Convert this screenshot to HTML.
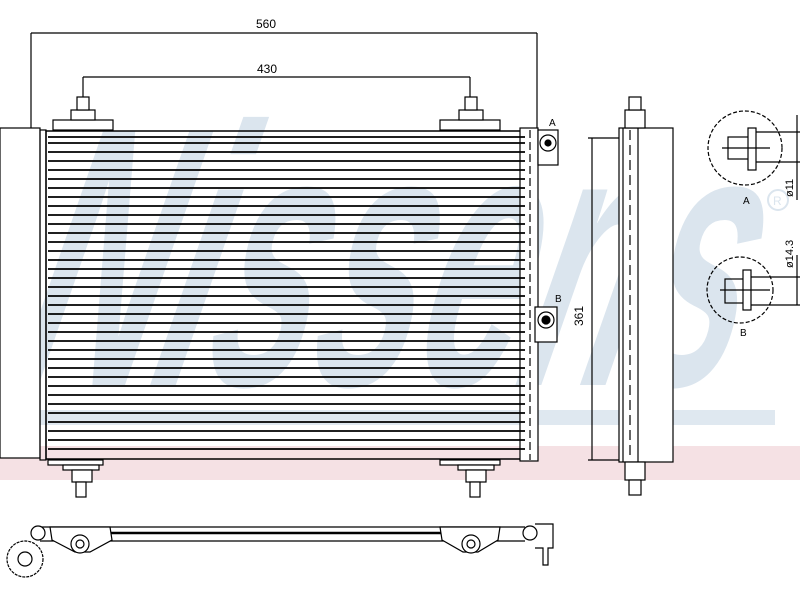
<!DOCTYPE html>
<html><head><meta charset="utf-8"><style>
html,body{margin:0;padding:0;background:#fff;width:800px;height:600px;overflow:hidden}
svg{display:block}
text{font-family:"Liberation Sans",sans-serif}
</style></head><body>
<svg width="800" height="600" viewBox="0 0 800 600" xmlns="http://www.w3.org/2000/svg">
<!-- watermark -->
<rect x="0" y="410" width="775" height="15" fill="#dfe8f0"/>
<rect x="0" y="446" width="800" height="34" fill="#f5e1e4"/>
<g transform="translate(0,250) skewX(-14) translate(0,-250)">
<text x="45" y="385" font-size="370" font-weight="bold" font-style="italic" fill="#dbe5ee" textLength="720" lengthAdjust="spacingAndGlyphs">Nissens</text>
</g>
<circle cx="778" cy="200" r="10" fill="none" stroke="#dbe5ee" stroke-width="2"/>
<text x="773" y="205" font-size="12" fill="#dbe5ee">R</text>

<g stroke="#000" fill="none" stroke-width="1.2">
<line x1="31" y1="33" x2="537" y2="33"/>
<line x1="31" y1="33" x2="31" y2="128"/>
<line x1="537" y1="33" x2="537" y2="128"/>
<line x1="83" y1="77" x2="470" y2="77"/>
<line x1="83" y1="77" x2="83" y2="97"/>
<line x1="470" y1="77" x2="470" y2="97"/>
<rect x="0" y="128" width="40" height="330" fill="#fff"/>
<rect x="40" y="130" width="6" height="330"/>
<rect x="46" y="131" width="480" height="328" fill="none" stroke-width="1.5"/>
<rect x="520" y="128" width="18" height="333" fill="#fff"/>
<line x1="530" y1="130" x2="530" y2="460" stroke-dasharray="8,4"/>
<rect x="53" y="120" width="60" height="10" fill="#fff"/>
<rect x="71" y="110" width="24" height="10" fill="#fff"/>
<rect x="77" y="97" width="12" height="13" fill="#fff"/>
<rect x="440" y="120" width="60" height="10" fill="#fff"/>
<rect x="459" y="110" width="24" height="10" fill="#fff"/>
<rect x="465" y="97" width="12" height="13" fill="#fff"/>
<rect x="48" y="460" width="55" height="5" fill="#fff"/>
<rect x="63" y="465" width="36" height="5" fill="#fff"/>
<rect x="72" y="470" width="20" height="12" fill="#fff"/>
<rect x="76" y="482" width="10" height="15" fill="#fff"/>
<rect x="440" y="460" width="60" height="5" fill="#fff"/>
<rect x="458" y="465" width="36" height="5" fill="#fff"/>
<rect x="466" y="470" width="20" height="12" fill="#fff"/>
<rect x="470" y="482" width="10" height="15" fill="#fff"/>
<rect x="538" y="130" width="20" height="35" fill="#fff"/>
<circle cx="548" cy="143" r="8"/>
<circle cx="548" cy="143" r="3" fill="#000"/>
<rect x="535" y="307" width="22" height="35" fill="#fff"/>
<circle cx="546" cy="320" r="8"/>
<circle cx="546" cy="320" r="4" fill="#000"/>
<line x1="592" y1="138" x2="592" y2="460"/>
<line x1="588" y1="138" x2="620" y2="138"/>
<line x1="588" y1="460" x2="620" y2="460"/>
<rect x="619" y="128" width="54" height="334" fill="#fff"/>
<line x1="623" y1="128" x2="623" y2="462"/>
<line x1="638" y1="128" x2="638" y2="462"/>
<line x1="630" y1="130" x2="630" y2="460" stroke-dasharray="10,5"/>
<rect x="625" y="110" width="20" height="18" fill="#fff"/>
<rect x="629" y="97" width="12" height="13" fill="#fff"/>
<rect x="625" y="462" width="20" height="18" fill="#fff"/>
<rect x="629" y="480" width="12" height="15" fill="#fff"/>
<circle cx="745" cy="148" r="37" stroke-dasharray="4,2"/>
<rect x="728" y="137" width="24" height="22"/>
<rect x="748" y="128" width="8" height="42" fill="#fff"/>
<line x1="722" y1="148" x2="770" y2="148"/>
<line x1="756" y1="132" x2="800" y2="132"/>
<line x1="756" y1="162" x2="800" y2="162"/>
<line x1="797" y1="115" x2="797" y2="200"/>
<circle cx="740" cy="290" r="33" stroke-dasharray="4,2"/>
<rect x="725" y="279" width="22" height="24"/>
<rect x="743" y="270" width="8" height="40" fill="#fff"/>
<line x1="720" y1="290" x2="770" y2="290"/>
<line x1="751" y1="277" x2="800" y2="277"/>
<line x1="751" y1="305" x2="800" y2="305"/>
<line x1="797" y1="255" x2="797" y2="305"/>
<line x1="40" y1="527" x2="525" y2="527"/>
<line x1="40" y1="541" x2="525" y2="541"/>
<line x1="110" y1="533" x2="455" y2="533" stroke-width="2.5"/>
<path d="M50 527 L110 527 L112 540 L90 552 L75 552 L52 540 Z" fill="#fff"/>
<path d="M440 527 L500 527 L498 540 L478 552 L463 552 L442 540 Z" fill="#fff"/>
<circle cx="80" cy="544" r="9" fill="#fff"/><circle cx="80" cy="544" r="4"/>
<circle cx="471" cy="544" r="9" fill="#fff"/><circle cx="471" cy="544" r="4"/>
<circle cx="38" cy="533" r="7" fill="#fff"/>
<circle cx="530" cy="533" r="7" fill="#fff"/>
<circle cx="25" cy="559" r="18" fill="#fff" stroke-dasharray="3,1"/>
<circle cx="25" cy="559" r="7"/>
<path d="M535 524 L553 524 L553 548 L548 548 L548 565 L543 565 L543 548 L535 548"/>
</g>
<g stroke="#000" stroke-width="1.8">
<line x1="48" y1="137" x2="525" y2="137"/><line x1="48" y1="143" x2="525" y2="143"/><line x1="48" y1="152" x2="525" y2="152"/><line x1="48" y1="161" x2="525" y2="161"/><line x1="48" y1="170" x2="525" y2="170"/><line x1="48" y1="179" x2="525" y2="179"/><line x1="48" y1="188" x2="525" y2="188"/><line x1="48" y1="197" x2="525" y2="197"/><line x1="48" y1="206" x2="525" y2="206"/><line x1="48" y1="215" x2="525" y2="215"/><line x1="48" y1="224" x2="525" y2="224"/><line x1="48" y1="233" x2="525" y2="233"/><line x1="48" y1="242" x2="525" y2="242"/><line x1="48" y1="251" x2="525" y2="251"/><line x1="48" y1="260" x2="525" y2="260"/><line x1="48" y1="269" x2="525" y2="269"/><line x1="48" y1="278" x2="525" y2="278"/><line x1="48" y1="287" x2="525" y2="287"/><line x1="48" y1="296" x2="525" y2="296"/><line x1="48" y1="305" x2="525" y2="305"/><line x1="48" y1="314" x2="525" y2="314"/><line x1="48" y1="323" x2="525" y2="323"/><line x1="48" y1="332" x2="525" y2="332"/><line x1="48" y1="341" x2="525" y2="341"/><line x1="48" y1="350" x2="525" y2="350"/><line x1="48" y1="359" x2="525" y2="359"/><line x1="48" y1="368" x2="525" y2="368"/><line x1="48" y1="377" x2="525" y2="377"/><line x1="48" y1="386" x2="525" y2="386"/><line x1="48" y1="395" x2="525" y2="395"/><line x1="48" y1="404" x2="525" y2="404"/><line x1="48" y1="413" x2="525" y2="413"/><line x1="48" y1="422" x2="525" y2="422"/><line x1="48" y1="431" x2="525" y2="431"/><line x1="48" y1="440" x2="525" y2="440"/><line x1="48" y1="449" x2="525" y2="449"/>
</g>
<g fill="#000" font-size="12">
<text x="256" y="28">560</text>
<text x="257" y="73">430</text>
<text x="549" y="126" font-size="10">A</text>
<text x="555" y="302" font-size="10">B</text>
<text x="743" y="204" font-size="10">A</text>
<text x="740" y="336" font-size="10">B</text>
<text transform="translate(583,326) rotate(-90)">361</text>
<text transform="translate(793,197) rotate(-90)" font-size="11">ø11</text>
<text transform="translate(793,268) rotate(-90)" font-size="11">ø14.3</text>
</g>
</svg>
</body></html>
